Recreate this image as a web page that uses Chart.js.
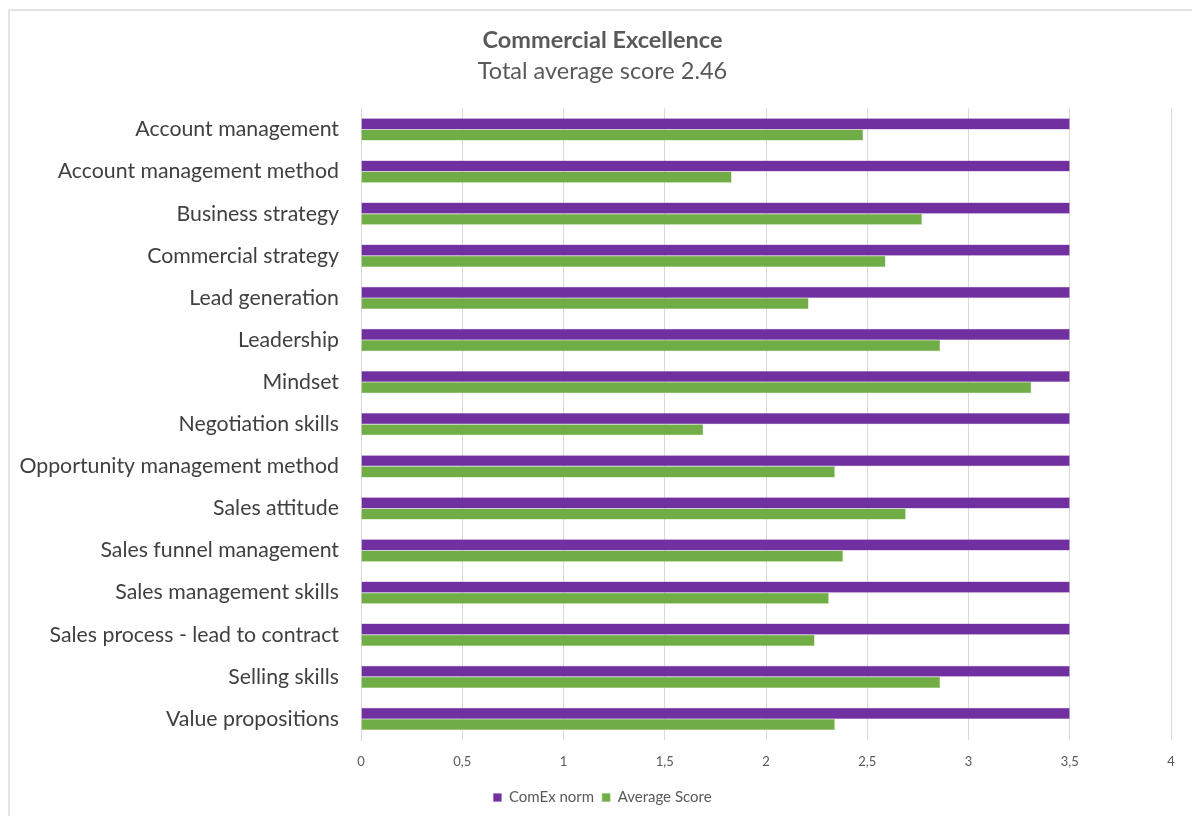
<!DOCTYPE html>
<html>
<head>
<meta charset="utf-8">
<script src="https://cdn.jsdelivr.net/npm/chart.js@4"></script>
<style>
  html, body { margin: 0; padding: 0; background: #fff; }
  #frame { position: absolute; left: 8px; top: 9px; width: 1200px; height: 820px;
           border-left: 2px solid #e3e3e3; border-top: 2px solid #e3e3e3; }
  #wrap { position: absolute; left: 0; top: 0; width: 1192px; height: 816px; }
</style>
</head>
<body>
<div id="frame"></div>
<div id="wrap"><canvas id="chart" width="1192" height="816"></canvas></div>
<script>
const categories = [
  'Account management',
  'Account management method',
  'Business strategy',
  'Commercial strategy',
  'Lead generation',
  'Leadership',
  'Mindset',
  'Negotiation skills',
  'Opportunity management method',
  'Sales attitude',
  'Sales funnel management',
  'Sales management skills',
  'Sales process - lead to contract',
  'Selling skills',
  'Value propositions',
];
const comexNorm = [3.5, 3.5, 3.5, 3.5, 3.5, 3.5, 3.5, 3.5, 3.5, 3.5, 3.5, 3.5, 3.5, 3.5, 3.5];
const averageScore = [2.48, 1.83, 2.77, 2.59, 2.21, 2.86, 3.31, 1.69, 2.34, 2.69, 2.38, 2.31, 2.24, 2.86, 2.34];
const xTicks = [0, 0.5, 1, 1.5, 2, 2.5, 3, 3.5, 4];

const fontFamily = 'Lato, "Open Sans", sans-serif';

new Chart(document.getElementById('chart'), {
  type: 'bar',
  data: {
    labels: categories,
    datasets: [
      {
        label: 'ComEx norm',
        data: comexNorm,
        backgroundColor: '#7030A0',
        borderColor: '#9b6cc4',
        borderWidth: 0.5,
        categoryPercentage: 0.53,
        barPercentage: 1,
      },
      {
        label: 'Average Score',
        data: averageScore,
        backgroundColor: '#70AD47',
        borderColor: '#8fc16c',
        borderWidth: 0.5,
        categoryPercentage: 0.53,
        barPercentage: 1,
      },
    ],
  },
  options: {
    indexAxis: 'y',
    responsive: false,
    animation: false,
    // left padding only to centre the title like the original
    layout: { padding: { left: 34, right: 21, top: 0, bottom: 1 } },
    plugins: {
      title: {
        display: true,
        text: 'Commercial Excellence',
        color: '#595959',
        font: { family: fontFamily, size: 23.5, weight: 'bold' },
        padding: { top: 26, bottom: 1 },
      },
      subtitle: {
        display: true,
        text: 'Total average score 2.46',
        color: '#595959',
        font: { family: fontFamily, size: 23.5 },
        padding: { top: 2, bottom: 23 },
      },
      legend: {
        position: 'bottom',
        labels: {
          boxWidth: 8,
          boxHeight: 8,
          padding: 8,
          color: '#595959',
          font: { family: fontFamily, size: 15 },
        },
      },
      tooltip: { enabled: false },
    },
    scales: {
      x: {
        min: 0,
        max: 4,
        afterBuildTicks: (scale) => {
          scale.ticks = xTicks.map((v) => ({ value: v }));
        },
        afterFit: (scale) => { scale.height = 42; },
        grid: { color: '#d9d9d9', drawTicks: false },
        border: { display: false },
        ticks: {
          padding: 14,
          color: '#595959',
          font: { family: fontFamily, size: 13 },
          callback: (v) => String(v).replace('.', ','),
        },
      },
      y: {
        afterFit: (scale) => {
          scale.width = 327;
          // long labels run into the left padding, don't clip them
          scale._computeLabelArea = () => undefined;
        },
        grid: { display: false, drawTicks: false },
        border: { display: true, color: '#d9d9d9' },
        ticks: {
          padding: 22,
          color: '#404040',
          font: { family: fontFamily, size: 21.3 },
        },
      },
    },
  },
});
</script>
</body>
</html>
